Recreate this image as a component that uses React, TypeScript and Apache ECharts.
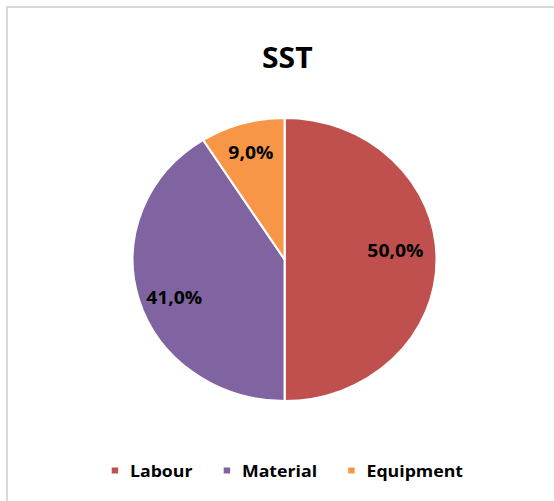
import React, { useEffect, useRef } from "react";
import * as echarts from "echarts";

// ---- data ----
const categories = ["Labour", "Material", "Equipment"];
const values = [50.0, 41.0, 9.0];
const colors = ["#C0504D", "#8064A2", "#F79646"];
const titleText = "SST";

// ---- layout (the reference image is stretched horizontally) ----
const STRETCH = 1.074;
const PAGE_W = 554;
const PAGE_H = 501;
const CHART_W = Math.round(PAGE_W / STRETCH);
const FONT = "'Open Sans', 'Noto Sans', sans-serif";

export default function App() {
  const ref = useRef<HTMLDivElement>(null);

  useEffect(() => {
    if (!ref.current) return;
    const chart = echarts.init(ref.current, null, { renderer: "svg" });
    const pieData = categories.map((name, i) => ({
      name,
      value: values[i],
      itemStyle: { color: colors[i] },
    }));
    const labelData = categories.map((name, i) => ({
      name,
      value: values[i],
      itemStyle: { color: "rgba(0,0,0,0)" },
    }));
    const nudges = [
      [-6, -10],
      [2, 7],
      [-1, -3],
    ];
    const center = [265, 259.5];
    const R = 141.5;
    chart.setOption({
      animation: false,
      title: {
        text: titleText,
        left: 239,
        top: 38,
        textStyle: {
          fontFamily: FONT,
          fontSize: 28,
          fontWeight: "bold",
          color: "#000",
        },
      },
      legend: {
        data: categories,
        left: 97,
        top: 457,
        icon: "rect",
        itemWidth: 8,
        itemHeight: 8,
        itemGap: 27,
        textStyle: {
          fontFamily: FONT,
          fontSize: 16.5,
          fontWeight: "bold",
          color: "#000",
          padding: [0, 0, 0, 5],
        },
      },
      series: [
        {
          type: "pie",
          center,
          radius: R,
          startAngle: 90,
          clockwise: true,
          silent: true,
          data: pieData,
          label: { show: false },
          labelLine: { show: false },
          itemStyle: { borderColor: "#fff", borderWidth: 2 },
        },
        {
          type: "pie",
          center,
          radius: [R * 0.5, R],
          startAngle: 90,
          clockwise: true,
          silent: true,
          data: labelData,
          itemStyle: { borderWidth: 0 },
          label: {
            show: true,
            position: "inside",
            fontFamily: FONT,
            fontSize: 18,
            fontWeight: "bold",
            color: "#000",
            formatter: (p: any) => p.value.toFixed(1).replace(".", ",") + "%",
          },
          labelLine: { show: false },
          labelLayout: (p: any) => ({
            dx: nudges[p.dataIndex][0],
            dy: nudges[p.dataIndex][1],
          }),
        },
      ],
    });
    return () => chart.dispose();
  }, []);

  return (
    <div
      style={{
        position: "fixed",
        left: 0,
        top: 0,
        width: PAGE_W,
        height: PAGE_H,
        overflow: "hidden",
        background: "#fff",
      }}
    >
      <div
        style={{
          position: "absolute",
          left: 6,
          top: 6,
          width: 700,
          height: 700,
          border: "2px solid #d9d9d9",
          boxSizing: "border-box",
        }}
      />
      <div
        ref={ref}
        style={{
          position: "absolute",
          left: 0,
          top: 0,
          width: CHART_W,
          height: PAGE_H,
          transform: `scaleX(${STRETCH})`,
          transformOrigin: "0 0",
        }}
      />
    </div>
  );
}
